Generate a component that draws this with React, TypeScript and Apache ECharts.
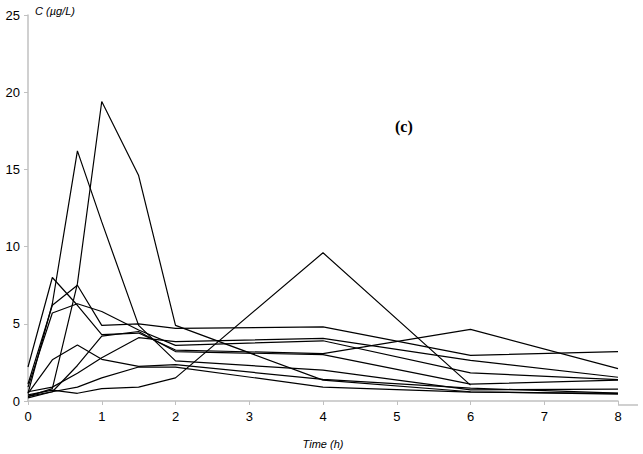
import React, { useEffect, useRef } from "react";
import * as echarts from "echarts";

const times = [0, 0.33, 0.67, 1, 1.5, 2, 4, 6, 8];

const subject1 = [0.3, 0.8, 7.6, 19.4, 14.6, 4.9, 1.35, 0.6, 0.45];
const subject2 = [0.5, 6.3, 16.2, 11.6, 4.9, 2.6, 2.0, 0.72, 0.77];
const subject3 = [2.2, 8.0, 6.2, 4.3, 4.4, 3.3, 3.07, 4.64, 2.1];
const subject4 = [1.1, 6.2, 7.5, 4.9, 5.0, 4.7, 4.8, 2.95, 3.2];
const subject5 = [0.9, 5.7, 6.3, 5.8, 4.6, 3.6, 3.9, 1.82, 1.39];
const subject6 = [0.5, 2.67, 3.63, 2.7, 2.24, 2.35, 1.4, 0.83, 0.51];
const subject7 = [0.6, 0.9, 1.8, 2.8, 4.1, 3.85, 4.05, 2.63, 1.54];
const subject8 = [0.2, 0.6, 0.9, 1.5, 2.2, 2.2, 0.9, 0.58, 0.5];
const subject9 = [0.4, 0.7, 0.5, 0.8, 0.9, 1.5, 9.6, 1.03, null];
const subject10 = [0.3, 0.6, 2.3, 4.2, 4.5, 3.2, 3.0, 1.09, 1.35];

const subjects = [
  subject1, subject2, subject3, subject4, subject5,
  subject6, subject7, subject8, subject9, subject10,
];

const xTicks = [0, 1, 2, 3, 4, 5, 6, 7, 8];
const yTicks = [0, 5, 10, 15, 20, 25];

export default function App() {
  const ref = useRef<HTMLDivElement>(null);
  useEffect(() => {
    document.body.style.margin = "0";
    if (!ref.current) return;
    const chart = echarts.init(ref.current, undefined, { renderer: "svg" });
    const axisColor = "#c0c0c0";
    chart.setOption({
      animation: false,
      backgroundColor: "#ffffff",
      grid: { left: 28, right: 25, top: 15, bottom: 49, containLabel: false },
      xAxis: {
        type: "value",
        min: xTicks[0],
        max: xTicks[xTicks.length - 1],
        interval: 1,
        name: "Time (h)",
        nameLocation: "middle",
        nameGap: 37,
        nameTextStyle: { fontFamily: "Liberation Sans", fontStyle: "italic", fontSize: 11, color: "#000" },
        axisLine: { show: true, lineStyle: { color: axisColor, width: 1.5 } },
        axisTick: { show: true, length: 4, lineStyle: { color: axisColor, width: 1 } },
        axisLabel: { fontFamily: "Liberation Sans", fontSize: 13, color: "#000", margin: 9 },
        splitLine: { show: false },
      },
      yAxis: {
        type: "value",
        min: yTicks[0],
        max: yTicks[yTicks.length - 1],
        interval: 5,
        axisLine: { show: true, lineStyle: { color: axisColor, width: 1.5 } },
        axisTick: { show: true, length: 4, lineStyle: { color: axisColor, width: 1 } },
        axisLabel: { fontFamily: "Liberation Sans", fontSize: 13, color: "#000", margin: 8 },
        splitLine: { show: false },
      },
      graphic: [
        {
          type: "text",
          left: 35,
          top: 5,
          style: { text: "C (µg/L)", font: "italic 11px 'Liberation Sans'", fill: "#000" },
        },
        {
          type: "text",
          left: 395,
          top: 118,
          style: { text: "(c)", font: "bold 16px 'Liberation Serif'", fill: "#000" },
        },
        {
          type: "line",
          shape: { x1: 618, y1: 405, x2: 638, y2: 405 },
          style: { stroke: axisColor, lineWidth: 1.5 },
        },
      ],
      series: subjects.map((vals, i) => ({
        name: "S" + (i + 1),
        type: "line",
        showSymbol: false,
        symbol: "none",
        connectNulls: false,
        lineStyle: { color: "#000", width: 1.2 },
        data: times.map((t, j) => [t, vals[j]]),
      })),
    });
    return () => chart.dispose();
  }, []);
  return <div ref={ref} style={{ width: 643, height: 454 }} />;
}
